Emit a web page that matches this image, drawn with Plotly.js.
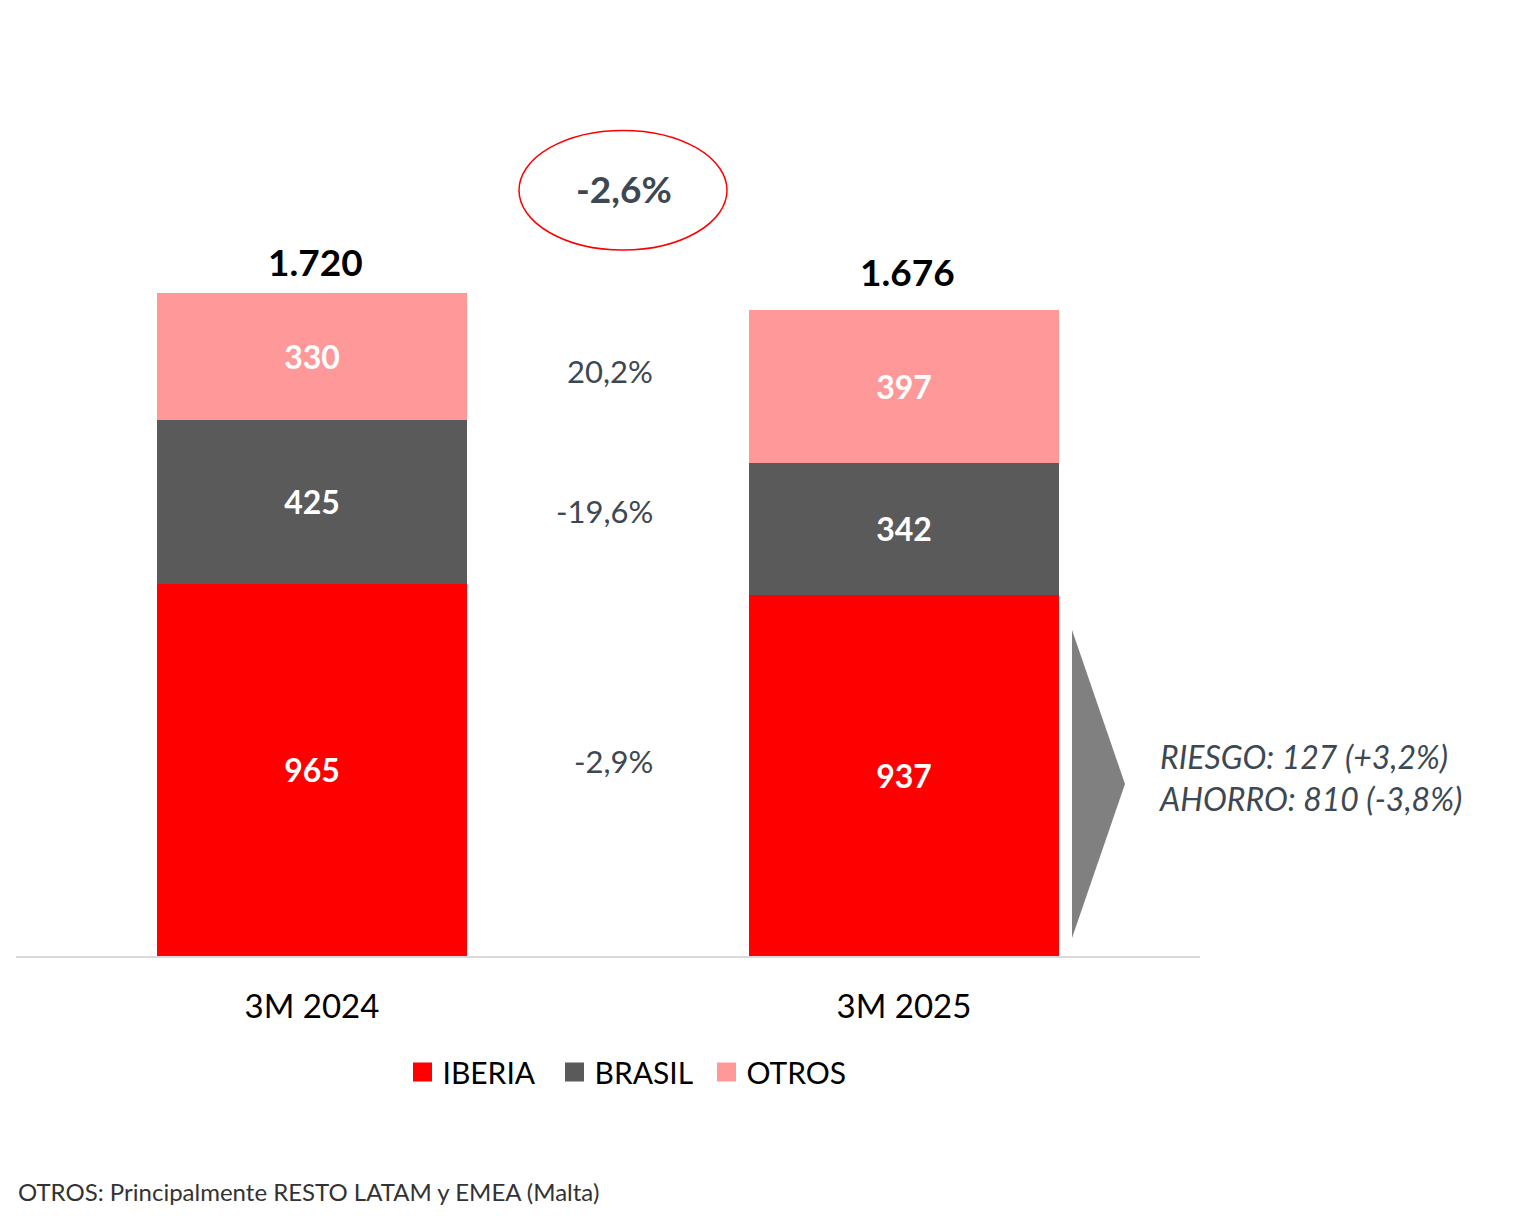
<!DOCTYPE html>
<html>
<head>
<meta charset="utf-8">
<script src="https://cdn.plot.ly/plotly-3.0.1.min.js"></script>
<style>html,body{margin:0;padding:0;background:#fff;}#chart{width:1526px;height:1216px;}</style>
</head>
<body>
<div id="chart"></div>
<script>
const categories = ['3M 2024', '3M 2025'];
const seriesNames = ['IBERIA', 'BRASIL', 'OTROS'];
const iberia = [965, 937];
const brasil = [425, 342];
const otros = [330, 397];
const changeLabels = ['-2,9%', '-19,6%', '20,2%'];
const totalChange = '-2,6%';
const noteLines = ['RIESGO: 127 (+3,2%)', 'AHORRO: 810 (-3,8%)'];
const footnote = 'OTROS: Principalmente RESTO LATAM y EMEA (Malta)';

const totals = categories.map((c, i) => iberia[i] + brasil[i] + otros[i]);
const FONT = 'Lato, Carlito, Calibri, sans-serif';
const SLATE = '#3d4852';
const COLORS = ['#ff0000', '#5a5a5a', '#ff9999'];

function barTrace(name, values, color) {
  return {
    type: 'bar', name: name, x: categories, y: values, showlegend: false,
    marker: {color: color, line: {width: 0}},
    texttemplate: '<b>%{y:,.0f}</b>',
    textposition: 'inside', insidetextanchor: 'middle',
    textfont: {family: FONT, size: 32, color: '#ffffff'},
    hoverinfo: 'skip'
  };
}

const data = [
  barTrace(seriesNames[0], iberia, COLORS[0]),
  barTrace(seriesNames[1], brasil, COLORS[1]),
  barTrace(seriesNames[2], otros, COLORS[2])
];
// legend entries with square swatches
seriesNames.forEach((n, k) => {
  data.push({
    type: 'scatter', mode: 'markers', name: n, x: [null], y: [null],
    marker: {symbol: 'square', size: 16, color: COLORS[k], line: {width: 3, color: COLORS[k]}},
    hoverinfo: 'skip'
  });
});

const seg = [
  [iberia[0] / 2, iberia[1] / 2],
  [iberia[0] + brasil[0] / 2, iberia[1] + brasil[1] / 2],
  [iberia[0] + brasil[0] + otros[0] / 2, iberia[1] + brasil[1] + otros[1] / 2]
];

const annotations = [];
const totalShift = [7, 14];
totals.forEach((t, i) => {
  annotations.push({
    x: categories[i], y: t, xref: 'x', yref: 'y',
    text: '<b>' + t.toLocaleString('de-DE') + '</b>',
    showarrow: false, yanchor: 'bottom', yshift: totalShift[i], xshift: 3,
    font: {family: FONT, size: 37, color: '#000000'}
  });
});
const changeShift = [12, 4, 0];
changeLabels.forEach((lab, k) => {
  annotations.push({
    x: 0.5, y: (seg[k][0] + seg[k][1]) / 2, xref: 'x', yref: 'y',
    text: lab, showarrow: false, xanchor: 'right', xshift: 47, yshift: changeShift[k],
    font: {family: FONT, size: 31, color: SLATE}
  });
});
annotations.push({
  x: 0.5, y: 2000, xref: 'x', yref: 'y', text: '<b>' + totalChange + '</b>',
  showarrow: false, xshift: 16, yshift: -4, font: {family: FONT, size: 37, color: SLATE}
});
annotations.push({
  x: (1156 - 16) / 1184, y: 464, xref: 'paper', yref: 'y', xanchor: 'left', yanchor: 'middle', align: 'left',
  text: '<i>' + noteLines.join('<br>') + '</i>', showarrow: false,
  font: {family: FONT, size: 32, color: SLATE}
});
annotations.push({
  x: 0, y: -0.275, xref: 'paper', yref: 'paper', xanchor: 'left', yanchor: 'middle',
  xshift: 0, text: footnote, showarrow: false,
  font: {family: FONT, size: 24, color: '#333333'}
});

const layout = {
  width: 1526, height: 1216,
  margin: {l: 16, r: 326, t: 100, b: 260},
  paper_bgcolor: '#ffffff', plot_bgcolor: '#ffffff',
  barmode: 'stack', bargap: 0.475,
  separators: ',.',
  showlegend: true,
  legend: {orientation: 'h', x: 0.519, xanchor: 'center', y: -0.1355, yanchor: 'middle',
           traceorder: 'normal', itemwidth: 30, entrywidth: 107, entrywidthmode: 'pixels',
           font: {family: FONT, size: 30, color: '#000000'}},
  xaxis: {type: 'category', range: [-0.5, 1.5], showline: true, linecolor: '#d9d9d9', linewidth: 2,
          ticks: '', ticklabelstandoff: 20, tickfont: {family: FONT, size: 33, color: '#000000'}, fixedrange: true},
  yaxis: {range: [0, 2220], visible: false, showgrid: false, zeroline: false, fixedrange: true},
  annotations: annotations,
  shapes: [
    {type: 'circle', xref: 'paper', yref: 'y', x0: (519 - 16) / 1184, x1: (727 - 16) / 1184,
     y0: 1831, y1: 2141, line: {color: '#ff0000', width: 1.5}, fillcolor: 'rgba(0,0,0,0)'},
    {type: 'path', xref: 'paper', yref: 'paper',
     path: 'M ' + ((1072 - 16) / 1184) + ' ' + ((956 - 630) / 856) + ' L ' + ((1125 - 16) / 1184) + ' ' + ((956 - 784) / 856) +
           ' L ' + ((1072 - 16) / 1184) + ' ' + ((956 - 938) / 856) + ' Z',
     fillcolor: '#808080', line: {width: 0}}
  ]
};

Plotly.newPlot('chart', data, layout, {displayModeBar: false, staticPlot: true});
</script>
</body>
</html>
